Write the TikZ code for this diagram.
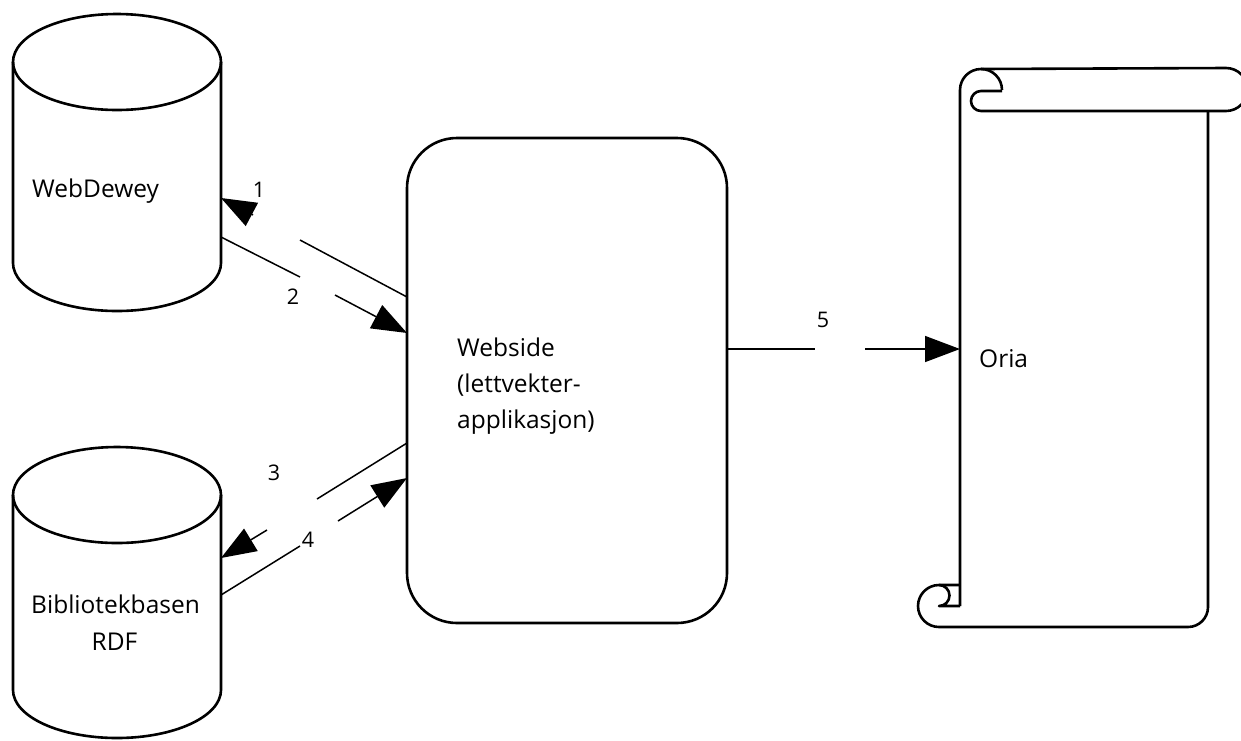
\documentclass[tikz,border=0pt]{standalone}
\usepackage{fontspec}
\setmainfont{Open Sans}
\usetikzlibrary{arrows.meta}
\begin{document}
\begin{tikzpicture}[x=1pt,y=-1pt,
  shapeline/.style={line width=2.6pt, line join=round},
  conn/.style={line width=1.5pt},
  arr/.style={conn, -{Triangle[length=35pt,width=26pt]}},
  lbl/.style={font=\fontsize{24.5}{28}\selectfont, inner sep=0pt, anchor=base west},
  num/.style={font=\fontsize{21.5}{25}\selectfont, inner sep=0pt, anchor=base},
]
\useasboundingbox (0,0) rectangle (1241,740);
\fill[white] (0,0) rectangle (1241,740);

% WebDewey cylinder
\draw[shapeline] (117,62) ellipse [x radius=104, y radius=48];
\draw[shapeline] (13,62) -- (13,263) arc[start angle=180, end angle=360, x radius=104, y radius=-48] -- (221,62);
% Bibliotekbasen cylinder
\draw[shapeline] (117,495) ellipse [x radius=104, y radius=48];
\draw[shapeline] (13,495) -- (13,690) arc[start angle=180, end angle=360, x radius=104, y radius=-48] -- (221,495);

% Webside box
\draw[shapeline, rounded corners=50pt] (407,138) rectangle (727,623);

% Oria scroll
\draw[shapeline] (960,606) -- (960,90) arc[start angle=180, end angle=360, radius=21];
\draw[shapeline] (1002,91) -- (981,91) arc[start angle=270, end angle=90, radius=10] -- (1226,111)
  arc[start angle=90, end angle=-90, radius=21.5] -- (981,69);
\draw[shapeline] (1208,111) -- (1208,607) arc[start angle=0, end angle=90, radius=20] -- (939,627)
  arc[start angle=90, end angle=270, radius=21] -- (960,585);
\draw[shapeline] (939,585) arc[start angle=270, end angle=450, radius=10.5] -- (960,606);

% texts
\node[lbl] (tdewey) at (32,197) {WebDewey};
\node[lbl] (tbib) at (31,613) {Bibliotekbasen};
\node[lbl, anchor=base] (trdf) at (114.5,650) {RDF};
\node[lbl] (tweb1) at (457,356) {Webside};
\node[lbl] (tweb2) at (457,392) {(lettvekter-};
\node[lbl] (tweb3) at (457,428) {applikasjon)};
\node[lbl] (toria) at (979,367) {Oria};

% connector points
\coordinate (d1) at (221,198);
\coordinate (d2) at (221,237);
\coordinate (b3) at (221,558);
\coordinate (b4) at (221,595);
\coordinate (w1) at (407,297);
\coordinate (w2) at (407,333);
\coordinate (w3) at (407,443);
\coordinate (w4) at (407,478);
\coordinate (w5) at (727,349);
\coordinate (o5) at (960,349);
\coordinate (g1a) at (300,240);
\coordinate (g1b) at (253,215);
\coordinate (g2a) at (300,277);
\coordinate (g2b) at (335,295);
\coordinate (g3a) at (317,499);
\coordinate (g3b) at (267,530);
\coordinate (g4a) at (300,546);
\coordinate (g4b) at (338,521);
\coordinate (g5a) at (815,349);
\coordinate (g5b) at (865,349);

% connectors
\draw[conn] (w1) -- (g1a);
\draw[arr] (g1b) -- (d1);
\draw[conn] (d2) -- (g2a);
\draw[arr] (g2b) -- (w2);
\draw[conn] (w3) -- (g3a);
\draw[arr] (g3b) -- (b3);
\draw[conn] (b4) -- (g4a);
\draw[arr] (g4b) -- (w4);
\draw[conn] (w5) -- (g5a);
\draw[arr] (g5b) -- (o5);

% numbers
\node[num] (n1) at (259,197) {1};
\node[num] (n2) at (293,304) {2};
\node[num] (n3) at (274,480) {3};
\node[num] (n4) at (308,547) {4};
\node[num] (n5) at (823,327) {5};
\end{tikzpicture}
\end{document}
